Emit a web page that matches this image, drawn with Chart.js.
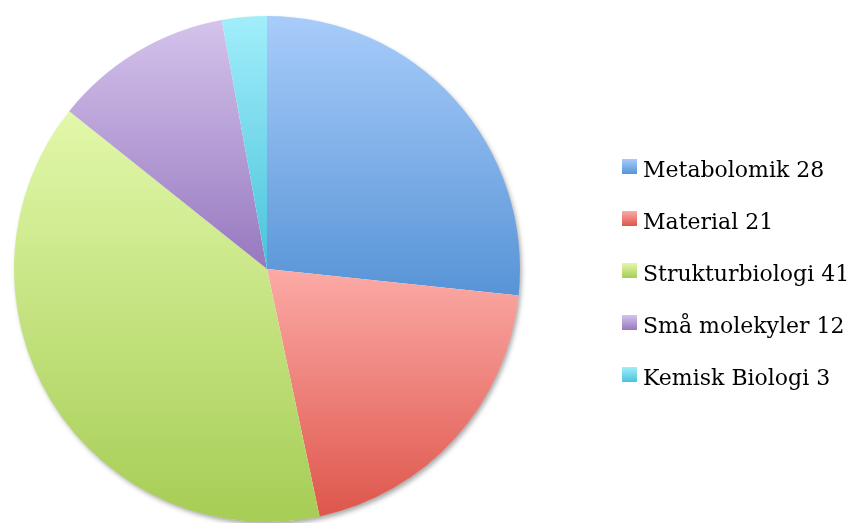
<!DOCTYPE html>
<html>
<head>
<meta charset="utf-8">
<script src="https://cdn.jsdelivr.net/npm/chart.js@4/dist/chart.umd.min.js"></script>
<style>
  html, body { margin: 0; padding: 0; background: #ffffff; }
  #wrap { position: relative; width: 853px; height: 523px; overflow: hidden; }
  #chart { position: absolute; left: 0; top: 0; }
  #legend { position: absolute; left: 0; top: 0; }
  .item { position: absolute; left: 622px; height: 26px; line-height: 26px; white-space: nowrap;
          font-family: "DejaVu Serif", serif; font-size: 22px; color: #000; }
  .box { position: absolute; left: 0; top: 2px; width: 15px; height: 15px; }
  .txt { position: absolute; left: 21px; top: 0; }
</style>
</head>
<body>
<div id="wrap">
  <canvas id="chart" width="853" height="523"></canvas>
  <div id="legend"></div>
</div>
<script>
// ---- data ----
const categories = ["Metabolomik", "Material", "Strukturbiologi", "Små molekyler", "Kemisk Biologi"];
const counts = [28, 21, 41, 12, 3];

// ---- palette (top / bottom of each slice gradient) ----
const topColors = ["#a8ccfa", "#fcaaa6", "#e2f8aa", "#d4c3ec", "#a2eefb"];
const bottomColors = ["#5794d6", "#de564c", "#a6cd55", "#9778bf", "#49c3db"];

const labels = categories.map((c, i) => c + " " + counts[i]);
const total = counts.reduce((a, b) => a + b, 0);

function sliceGradient(ctx) {
  const chart = ctx.chart;
  const area = chart.chartArea;
  const i = ctx.dataIndex;
  if (!area) return bottomColors[i];
  const cx = (area.left + area.right) / 2;
  const cy = (area.top + area.bottom) / 2;
  const r = Math.min(area.right - area.left, area.bottom - area.top) / 2;
  let before = 0;
  for (let k = 0; k < i; k++) before += counts[k];
  const a0 = -Math.PI / 2 + before / total * 2 * Math.PI;
  const a1 = a0 + counts[i] / total * 2 * Math.PI;
  const ys = [cy, cy + r * Math.sin(a0), cy + r * Math.sin(a1)];
  [-Math.PI / 2, Math.PI / 2, 3 * Math.PI / 2].forEach(a => {
    if (a >= a0 - 1e-9 && a <= a1 + 1e-9) ys.push(cy + r * Math.sin(a));
  });
  const y0 = Math.min(...ys), y1 = Math.max(...ys);
  const g = chart.ctx.createLinearGradient(0, y0, 0, y1);
  g.addColorStop(0, topColors[i]);
  g.addColorStop(1, bottomColors[i]);
  return g;
}

const shadowPlugin = {
  id: "pieShadow",
  beforeDatasetsDraw(chart) {
    const meta = chart.getDatasetMeta(0);
    const arc = meta.data[0];
    if (!arc) return;
    const c = chart.ctx;
    c.save();
    c.beginPath();
    c.arc(arc.x, arc.y, arc.outerRadius - 0.5, 0, Math.PI * 2);
    c.shadowColor = "rgba(0,0,0,0.35)";
    c.shadowBlur = 5;
    c.shadowOffsetX = 2;
    c.shadowOffsetY = 3;
    c.fillStyle = "#ffffff";
    c.fill();
    c.restore();
  }
};

new Chart(document.getElementById("chart"), {
  type: "pie",
  data: {
    labels: labels,
    datasets: [{
      data: counts,
      backgroundColor: sliceGradient,
      borderWidth: 0,
      hoverOffset: 0
    }]
  },
  options: {
    responsive: false,
    animation: false,
    layout: { padding: { top: 16, bottom: 1, left: 12, right: 331 } },
    plugins: {
      legend: { display: false },
      tooltip: { enabled: false }
    }
  },
  plugins: [shadowPlugin]
});

// ---- HTML legend built from the same arrays ----
const legend = document.getElementById("legend");
labels.forEach((lab, i) => {
  const row = document.createElement("div");
  row.className = "item";
  row.style.top = (157 + i * 52) + "px";
  const box = document.createElement("div");
  box.className = "box";
  box.style.background = "linear-gradient(" + topColors[i] + ", " + bottomColors[i] + ")";
  const t = document.createElement("span");
  t.className = "txt";
  t.textContent = lab;
  row.appendChild(box);
  row.appendChild(t);
  legend.appendChild(row);
});
</script>
</body>
</html>
